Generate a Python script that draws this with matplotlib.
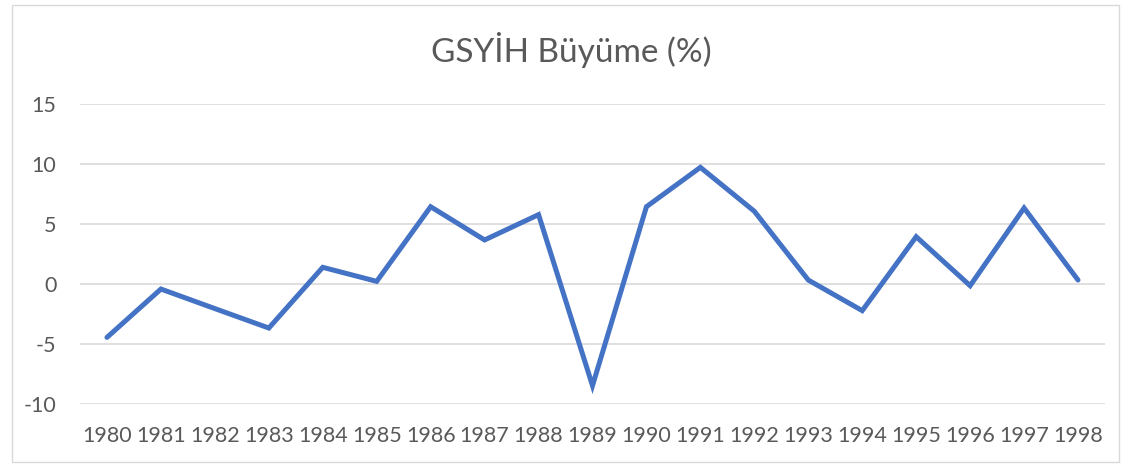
import matplotlib.pyplot as plt
from matplotlib.patches import Rectangle

# GDP growth values
years = ['1980', '1981', '1982', '1983', '1984', '1985', '1986', '1987', '1988', '1989',
         '1990', '1991', '1992', '1993', '1994', '1995', '1996', '1997', '1998']
growth = [-4.45, -0.42, -2.05, -3.67, 1.39, 0.22, 6.44, 3.67, 5.78, -8.47,
          6.44, 9.72, 6.06, 0.33, -2.22, 3.94, -0.14, 6.33, 0.33]
y_ticks = [-10, -5, 0, 5, 10, 15]

plt.rcParams['font.family'] = ['Lato', 'DejaVu Sans']
plt.rcParams['axes.unicode_minus'] = False

W, H = 1134, 468
fig = plt.figure(figsize=(W / 100, H / 100), dpi=100)

# light chart frame like Excel
fig.patches.append(Rectangle((12 / W, 1 - 462 / H), (1119 - 12) / W, (462 - 5) / H,
                             transform=fig.transFigure, fill=False,
                             edgecolor='#D9D9D9', linewidth=1))

ax = fig.add_axes([80 / W, 1 - 404 / H, (1105 - 80) / W, (404 - 104) / H])
x = list(range(len(years)))
ax.plot(x, growth, color='#4472C4', linewidth=3.6, solid_capstyle='round',
        solid_joinstyle='miter', zorder=3)

ax.set_xlim(-0.5, len(years) - 0.5)
ax.set_ylim(-10, 15)
ax.set_yticks(y_ticks)
ax.set_xticks(x)
ax.set_xticklabels(years)
ax.grid(axis='y', color='#D9D9D9', linewidth=1.2)
ax.grid(axis='x', visible=False)
for s in ax.spines.values():
    s.set_visible(False)
ax.tick_params(length=0, colors='#595959', labelsize=15.5)
ax.tick_params(axis='y', pad=17)
ax.tick_params(axis='x', pad=16)

fig.text(571 / W, 1 - 50 / H, 'GSYİH Büyüme (%)', ha='center', va='center',
         fontsize=24, color='#595959')

fig.savefig('out.png', dpi=100)
